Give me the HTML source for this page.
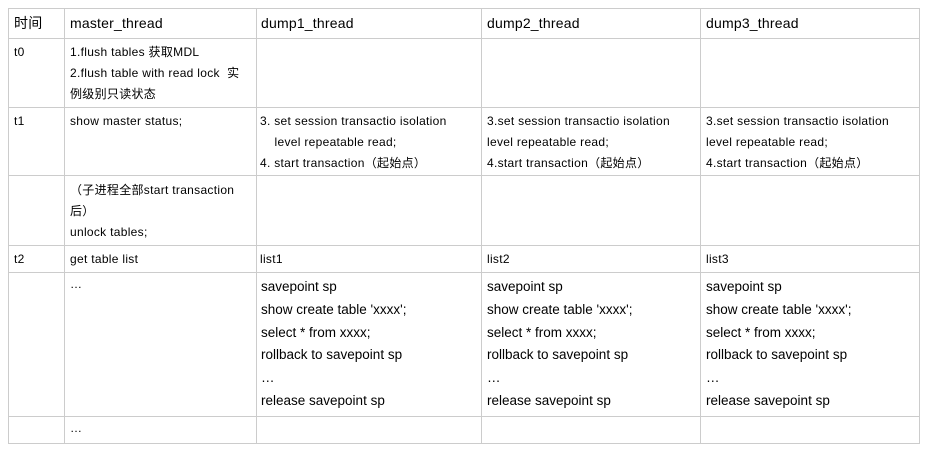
<!DOCTYPE html>
<html><head><meta charset="utf-8"><style>
body{margin:0;width:930px;height:452px;background:#fff;position:relative;font-family:"Liberation Sans","Noto Sans CJK SC",sans-serif;color:#111;overflow:hidden}
.h{position:absolute;background:#ccc;height:1px}
.v{position:absolute;background:#ccc;width:1px}
.t{position:absolute;font-size:12px;line-height:21px;white-space:nowrap;letter-spacing:0.3px;color:#000}
.hd{font-size:14px;letter-spacing:0.2px}
.b{font-size:13.5px;line-height:22.8px;letter-spacing:0}
</style></head><body>
<div class="h" style="left:8px;width:912px;top:8px"></div>
<div class="h" style="left:8px;width:912px;top:38px"></div>
<div class="h" style="left:8px;width:912px;top:107px"></div>
<div class="h" style="left:8px;width:912px;top:175px"></div>
<div class="h" style="left:8px;width:912px;top:245px"></div>
<div class="h" style="left:8px;width:912px;top:272px"></div>
<div class="h" style="left:8px;width:912px;top:416px"></div>
<div class="h" style="left:8px;width:912px;top:443px"></div>
<div class="v" style="left:8px;top:8px;height:436px"></div>
<div class="v" style="left:64px;top:8px;height:436px"></div>
<div class="v" style="left:256px;top:8px;height:436px"></div>
<div class="v" style="left:481px;top:8px;height:436px"></div>
<div class="v" style="left:700px;top:8px;height:436px"></div>
<div class="v" style="left:919px;top:8px;height:436px"></div>

<div class="t hd" style="left:14px;top:13px">时间</div>
<div class="t hd" style="left:70px;top:13px">master_thread</div>
<div class="t hd" style="left:261px;top:13px">dump1_thread</div>
<div class="t hd" style="left:487px;top:13px">dump2_thread</div>
<div class="t hd" style="left:706px;top:13px">dump3_thread</div>

<div class="t" style="left:14px;top:42px">t0</div>
<div class="t" style="left:70px;top:42px">1.flush tables 获取MDL<br>2.flush table with read lock &nbsp;实<br>例级别只读状态</div>

<div class="t" style="left:14px;top:111px">t1</div>
<div class="t" style="left:70px;top:111px">show master status;</div>
<div class="t" style="left:260px;top:111px">3. set session transactio isolation<br>&nbsp;&nbsp;&nbsp;&nbsp;level repeatable read;<br>4. start transaction（起始点）</div>
<div class="t" style="left:487px;top:111px">3.set session transactio isolation<br>level repeatable read;<br>4.start transaction（起始点）</div>
<div class="t" style="left:706px;top:111px">3.set session transactio isolation<br>level repeatable read;<br>4.start transaction（起始点）</div>

<div class="t" style="left:70px;top:180px">（子进程全部start transaction<br>后）<br>unlock tables;</div>

<div class="t" style="left:14px;top:249px">t2</div>
<div class="t" style="left:70px;top:249px">get table list</div>
<div class="t" style="left:260px;top:249px">list1</div>
<div class="t" style="left:487px;top:249px">list2</div>
<div class="t" style="left:706px;top:249px">list3</div>

<div class="t" style="left:70px;top:274px">…</div>
<div class="t b" style="left:261px;top:276px">savepoint sp<br>show create table 'xxxx';<br>select * from xxxx;<br>rollback to savepoint sp<br>…<br>release savepoint sp</div>
<div class="t b" style="left:487px;top:276px">savepoint sp<br>show create table 'xxxx';<br>select * from xxxx;<br>rollback to savepoint sp<br>…<br>release savepoint sp</div>
<div class="t b" style="left:706px;top:276px">savepoint sp<br>show create table 'xxxx';<br>select * from xxxx;<br>rollback to savepoint sp<br>…<br>release savepoint sp</div>

<div class="t" style="left:70px;top:418px">…</div>
</body></html>
